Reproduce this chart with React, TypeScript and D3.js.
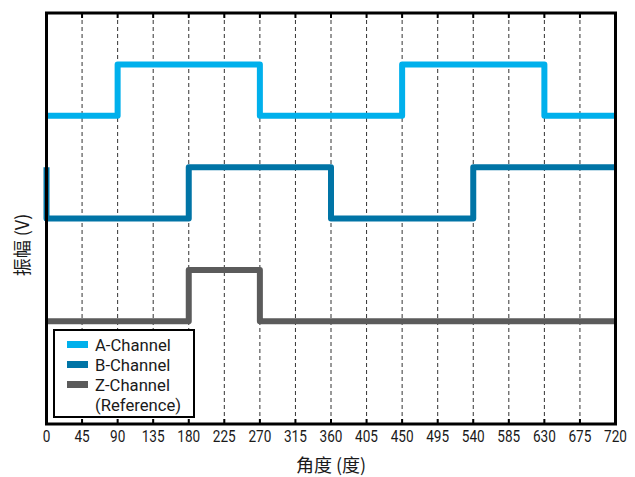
import React from "react";
import * as d3 from "d3";

const angles = [0, 90, 180, 270, 360, 450, 540, 630, 720];
const channelA = [4, 5, 5, 4, 4, 5, 5, 4, 4];
const channelBStart = 3;
const channelB = [2, 2, 3, 3, 2, 2, 3, 3, 3];
const channelZ = [0, 0, 1, 0, 0, 0, 0, 0, 0];
const tickValues = d3.range(0, 721, 45);
const seriesNames = ["A-Channel", "B-Channel", "Z-Channel"];
const seriesColors = ["#00b0ec", "#0074a6", "#5b5b5b"];

function stepPoints(vals: number[], startVal?: number): [number, number][] {
  const pts: [number, number][] = [];
  if (startVal !== undefined) pts.push([angles[0], startVal]);
  for (let i = 0; i < angles.length; i++) {
    if (i > 0 && vals[i] !== vals[i - 1]) pts.push([angles[i], vals[i - 1]]);
    pts.push([angles[i], vals[i]]);
  }
  return pts;
}

export default function App() {
  const W = 635, H = 477;
  const left = 46.5, right = 615.5, top = 13, bottom = 424;
  const x = d3.scaleLinear().domain([0, 720]).range([left, right]);
  const y = d3.scaleLinear().domain([-2, 6]).range([bottom, top]);
  const line = d3.line<[number, number]>().x(d => x(d[0])).y(d => y(d[1]));

  const series = [
    stepPoints(channelA),
    stepPoints(channelB, channelBStart),
    stepPoints(channelZ),
  ];
  const font = "Roboto, 'DejaVu Sans', sans-serif";
  const cjk = "'Noto Sans CJK SC', 'Noto Sans', sans-serif";

  return (
    <svg width={W} height={H} style={{ position: "absolute", left: 0, top: 0, background: "#fff" }}>
      {tickValues.slice(1, -1).map(t => (
        <line key={"g" + t} x1={x(t)} x2={x(t)} y1={top} y2={bottom}
          stroke="#333" strokeWidth={1} strokeDasharray="4,3" />
      ))}
      {tickValues.map(t => (
        <g key={"t" + t}>
          <line x1={x(t)} x2={x(t)} y1={top} y2={top + 5} stroke="#000" strokeWidth={2} />
          <line x1={x(t)} x2={x(t)} y1={bottom} y2={bottom - 5} stroke="#000" strokeWidth={2} />
          <text transform={`translate(${x(t)},${bottom + 18}) scale(0.8,1)`} textAnchor="middle"
            fontFamily={font} fontSize={17} fill="#1a1a1a">{t}</text>
        </g>
      ))}
      {series.map((pts, i) => (
        <path key={"s" + i} d={line(pts) || ""} fill="none" stroke={seriesColors[i]}
          strokeWidth={6} strokeLinejoin="round" strokeLinecap="butt" />
      ))}
      <rect x={left} y={top} width={right - left} height={bottom - top} fill="none" stroke="#000" strokeWidth={3} />
      <g>
        <rect x={54} y={330} width={140} height={87} fill="#fff" stroke="#000" strokeWidth={2} />
        {seriesNames.map((n, i) => (
          <g key={"l" + i}>
            <rect x={67} y={341 + i * 20} width={21} height={7} fill={seriesColors[i]} />
            <text transform={`translate(95,${351 + i * 20}) scale(0.98,1)`} fontFamily={font} fontSize={17} fill="#1a1a1a">{n}</text>
          </g>
        ))}
        <text transform={`translate(95,411) scale(0.98,1)`} fontFamily={font} fontSize={17} fill="#1a1a1a">(Reference)</text>
      </g>
      <text x={331} y={472} textAnchor="middle" fontFamily={cjk} fontSize={18} fill="#1a1a1a">角度 (度)</text>
      <text transform={`translate(29,245) rotate(-90)`} textAnchor="middle"
        fontFamily={cjk} fontSize={18} fill="#1a1a1a">振幅 (V)</text>
    </svg>
  );
}
